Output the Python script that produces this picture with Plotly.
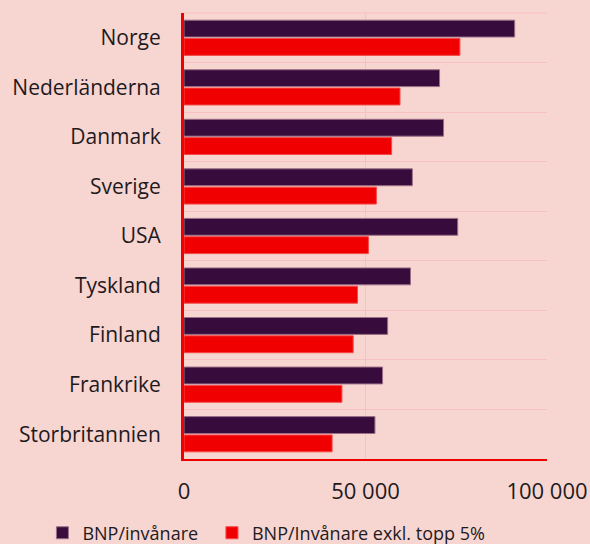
import plotly.graph_objects as go

countries = ["Norge", "Nederländerna", "Danmark", "Sverige", "USA", "Tyskland",
             "Finland", "Frankrike", "Storbritannien"]
bnp = [91100, 70400, 71500, 62900, 75400, 62400, 56100, 54700, 52600]
bnp_excl = [76000, 59500, 57200, 53000, 50800, 47800, 46600, 43500, 40800]
x_ticks = [0, 50000, 100000]
x_tick_labels = ["0", "50 000", "100 000"]

BG = "#F7D5D0"
GRID = "#F9C0C4"
FONT = "'Open Sans', sans-serif"

fig = go.Figure()
fig.add_trace(go.Bar(
    y=countries, x=bnp, orientation="h", name="BNP/invånare", legend="legend",
    marker=dict(color="#370C3C", line=dict(color="#9C6E86", width=1)),
))
fig.add_trace(go.Bar(
    y=countries, x=bnp_excl, orientation="h", name="BNP/Invånare exkl. topp 5%",
    legend="legend2",
    marker=dict(color="#F00000", line=dict(color="#F54848", width=1)),
))

leg_common = dict(orientation="h", xanchor="left", y=-0.166, yanchor="middle",
                  font=dict(size=18), itemwidth=30, bgcolor="rgba(0,0,0,0)")
fig.update_layout(
    width=590, height=544,
    paper_bgcolor=BG, plot_bgcolor=BG,
    margin=dict(l=184, r=43, t=13, b=85, autoexpand=False),
    barmode="group", bargap=0.26, bargroupgap=0.08,
    font=dict(family=FONT, size=21, color="#1E1A1E"),
    showlegend=True,
    legend=dict(x=-0.39, **leg_common),
    legend2=dict(x=0.077, **leg_common),
)
fig.update_xaxes(
    range=[0, 100000], tickvals=x_ticks, ticktext=x_tick_labels,
    showgrid=True, gridcolor=GRID, gridwidth=1, automargin=False,
    zeroline=False, showline=True, linecolor="#F00000", linewidth=2,
    ticks="outside", ticklen=12, tickcolor="rgba(0,0,0,0)",
    tickfont=dict(size=22),
)
fig.update_yaxes(
    autorange="reversed", type="category", tickson="boundaries",
    showgrid=True, gridcolor=GRID, gridwidth=1, automargin=False,
    showline=True, linecolor="#F00000", linewidth=3,
    ticks="", ticklabelstandoff=16,
    tickfont=dict(size=21),
)
fig.add_shape(type="line", xref="paper", yref="paper", x0=0, x1=1, y0=1, y1=1,
              line=dict(color=GRID, width=1))

fig.write_html("out.html", config={"displayModeBar": False},
               post_script="document.body.style.margin='0';document.body.style.padding='0';")
